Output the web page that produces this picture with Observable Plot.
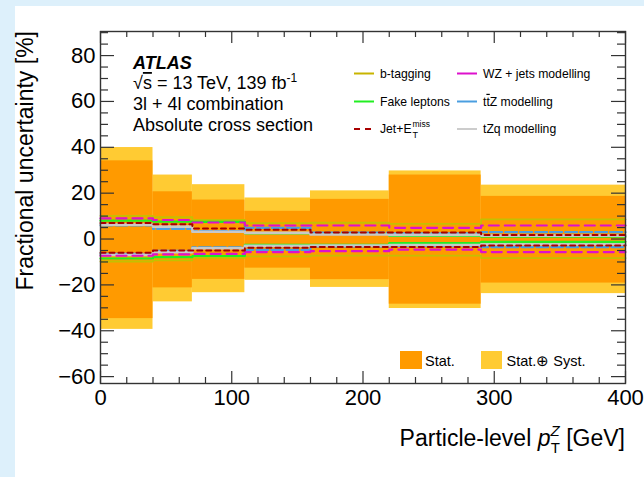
<!DOCTYPE html>
<html>
<head>
<meta charset="utf-8">
<script src="https://cdn.jsdelivr.net/npm/d3@7"></script>
<script src="https://cdn.jsdelivr.net/npm/@observablehq/plot@0.6"></script>
<style>
  html, body { margin: 0; padding: 0; width: 644px; height: 477px; overflow: hidden; background: #ddf0fb; }
  #chart { position: absolute; left: 15px; top: 6px; width: 629px; height: 471px; background: #ffffff; }
  #chart svg { display: block; }
</style>
</head>
<body>
<div id="chart"></div>
<script>
// ---- data ----
const binEdges = [0, 40, 70, 110, 160, 220, 290, 400];
const statUp    = [34.1, 20.6, 17.0, 12.1, 17.3, 27.9, 18.6];
const statDown  = [-34.7, -21.3, -17.6, -12.7, -17.7, -28.4, -19.2];
const totalUp   = [39.9, 27.9, 23.7, 17.9, 21.0, 29.7, 23.5];
const totalDown = [-39.4, -27.4, -23.4, -18.0, -21.1, -30.3, -23.8];

const bTagUp   = [10.1, 9.5, 8.3, 6.9, 7.1, 6.6, 8.6];
const bTagDown = [-9.8, -9.3, -8.2, -7.6, -7.2, -7.2, -8.3];
const fakeUp   = [8.0, 7.6, 7.5, 2.5, 2.2, 1.4, 1.0];
const fakeDown = [-8.5, -7.9, -7.4, -2.5, -2.5, -1.8, -1.2];
const jetUp    = [7.0, 6.5, 4.6, 4.0, 2.8, 2.8, 1.8];
const jetDown  = [-6.0, -5.0, -5.0, -3.8, -3.5, -3.5, -2.8];
const wzUp     = [9.0, 8.3, 7.2, 5.9, 5.9, 4.9, 5.9];
const wzDown   = [-7.3, -6.7, -6.5, -5.7, -5.3, -4.6, -5.7];
const ttzUp    = [5.9, 4.4, 3.5, 4.9, 2.8, 2.5, 3.0];
const ttzDown  = [-6.5, -5.2, -3.6, -4.7, -3.2, -3.0, -3.5];
const tzqUp    = [6.3, 5.4, 3.2, 2.7, 2.0, 1.8, 1.5];
const tzqDown  = [-6.9, -5.7, -4.0, -3.0, -2.8, -2.6, -2.3];

const xTicksMajor = [0, 100, 200, 300, 400];
const xTicksMinor = [20, 40, 60, 80, 120, 140, 160, 180, 220, 240, 260, 280, 320, 340, 360, 380];
const yTicksMajor = [-60, -40, -20, 0, 20, 40, 60, 80];
const yTicksMinor = [-55, -50, -45, -35, -30, -25, -15, -10, -5, 5, 10, 15, 25, 30, 35, 45, 50, 55, 65, 70, 75, 85, 90];

// ---- helpers ----
const bandRows = (lo, hi) => lo.map((d, i) => ({x1: binEdges[i], x2: binEdges[i + 1], y1: lo[i], y2: hi[i]}));
const stepPts = (vals) => binEdges.map((e, i) => ({x: e, y: vals[Math.min(i, vals.length - 1)]}));

const series = [
  {up: bTagUp, down: bTagDown, stroke: "#c4c000", w: 1.8, dash: null},
  {up: fakeUp, down: fakeDown, stroke: "#22ee22", w: 2.2, dash: null},
  {up: ttzUp, down: ttzDown, stroke: "#4a9ee0", w: 2.2, dash: "12,3"},
  {up: tzqUp, down: tzqDown, stroke: "#c8c8c8", w: 2.6, dash: null},
  {up: wzUp, down: wzDown, stroke: "#dd11cc", w: 2.2, dash: "10,6"},
  {up: jetUp, down: jetDown, stroke: "#a80000", w: 2.0, dash: "5,4"}
];

const W = 629, H = 471, mL = 85, mR = 19, mT = 25, mB = 94;
const innerW = W - mL - mR, innerH = H - mT - mB;

const marks = [
  Plot.rect(bandRows(totalDown, totalUp), {x1: "x1", x2: "x2", y1: "y1", y2: "y2", fill: "#ffcb33"}),
  Plot.rect(bandRows(statDown, statUp), {x1: "x1", x2: "x2", y1: "y1", y2: "y2", fill: "#ff9a00"})
];
for (const s of series) {
  for (const v of [s.up, s.down]) {
    marks.push(Plot.line(stepPts(v), {x: "x", y: "y", curve: "step-after", stroke: s.stroke,
      strokeWidth: s.w, strokeDasharray: s.dash}));
  }
}
// ROOT-style inward ticks on all four sides
marks.push(
  Plot.tickY(yTicksMajor, {y: d => d, insetRight: innerW - 14, stroke: "#333", strokeWidth: 1.2}),
  Plot.tickY(yTicksMinor, {y: d => d, insetRight: innerW - 8, stroke: "#333", strokeWidth: 1.2}),
  Plot.tickY(yTicksMajor, {y: d => d, insetLeft: innerW - 14, stroke: "#333", strokeWidth: 1.2}),
  Plot.tickY(yTicksMinor, {y: d => d, insetLeft: innerW - 8, stroke: "#333", strokeWidth: 1.2}),
  Plot.tickX(xTicksMajor, {x: d => d, insetTop: innerH - 12, stroke: "#333", strokeWidth: 1.2}),
  Plot.tickX(xTicksMinor, {x: d => d, insetTop: innerH - 6, stroke: "#333", strokeWidth: 1.2}),
  Plot.tickX(xTicksMajor, {x: d => d, insetBottom: innerH - 12, stroke: "#333", strokeWidth: 1.2}),
  Plot.tickX(xTicksMinor, {x: d => d, insetBottom: innerH - 6, stroke: "#333", strokeWidth: 1.2}),
  Plot.frame({stroke: "#333", strokeWidth: 1.4}),
  Plot.axisY({ticks: yTicksMajor, tickSize: 0, tickPadding: 5, fontSize: 22, tickFormat: d3.format("d"), label: null}),
  Plot.axisX({ticks: xTicksMajor, tickSize: 0, tickPadding: 6, fontSize: 22, tickFormat: d3.format("d"), label: null})
);

const svgEl = Plot.plot({
  width: W, height: H,
  marginLeft: mL, marginRight: mR, marginTop: mT, marginBottom: mB,
  x: {domain: [0, 400], axis: null},
  y: {domain: [-63, 90.5], axis: null},
  style: {fontFamily: "'Liberation Sans', Arial, Helvetica, sans-serif", color: "#000", background: "white", overflow: "visible"},
  marks
});
document.getElementById("chart").appendChild(svgEl);

// ---- annotations (text, legends) ----
const svg = d3.select(svgEl);
const g = svg.append("g").attr("font-family", "'Liberation Sans', Arial, Helvetica, sans-serif")
  .attr("fill", "#000").attr("text-anchor", "start");

// axis titles
g.append("text").attr("transform", "translate(18,25) rotate(-90)").attr("text-anchor", "end")
  .attr("font-size", 23).text("Fractional uncertainty [%]");
const xt = g.append("text").attr("x", 610).attr("y", 440).attr("text-anchor", "end").attr("font-size", 23);
xt.append("tspan").text("Particle-level ");
xt.append("tspan").attr("font-style", "italic").text("p");
xt.append("tspan").attr("font-style", "italic").attr("font-size", 15).attr("dy", -10).text("Z");
xt.append("tspan").attr("font-size", 15).attr("dx", -9).attr("dy", 17).text("T");
xt.append("tspan").attr("dy", -7).text(" [GeV]");

// ATLAS block
g.append("text").attr("x", 118).attr("y", 62.5).attr("font-size", 18).attr("font-weight", "bold")
  .attr("font-style", "italic").text("ATLAS");
const l2 = g.append("text").attr("x", 118).attr("y", 83).attr("font-size", 18);
l2.append("tspan").text("√");
l2.append("tspan").attr("text-decoration", "overline").text("s");
l2.append("tspan").text(" = 13 TeV, 139 fb");
l2.append("tspan").attr("font-size", 12).attr("dy", -7).text("-1");
g.append("text").attr("x", 118).attr("y", 104).attr("font-size", 18).text("3l + 4l combination");
g.append("text").attr("x", 118).attr("y", 124.5).attr("font-size", 18).text("Absolute cross section");

// line legend
const legendItems = [
  {col: 0, row: 0, stroke: "#c8b400", dash: null, label: "b-tagging"},
  {col: 0, row: 1, stroke: "#22ee22", dash: null, label: "Fake leptons"},
  {col: 0, row: 2, stroke: "#a80000", dash: "6,5", label: "Jet+E"},
  {col: 1, row: 0, stroke: "#dd11cc", dash: null, label: "WZ + jets modelling"},
  {col: 1, row: 1, stroke: "#4a9ee0", dash: null, label: "ttZ"},
  {col: 1, row: 2, stroke: "#cccccc", dash: null, label: "tZq modelling"}
];
const colX = [339, 442], rowY = [67.5, 95.5, 123];
for (const it of legendItems) {
  const x0 = colX[it.col], yc = rowY[it.row];
  g.append("line").attr("x1", x0).attr("x2", x0 + 20).attr("y1", yc).attr("y2", yc)
    .attr("stroke", it.stroke).attr("stroke-width", 2).attr("stroke-dasharray", it.dash);
  const t = g.append("text").attr("x", x0 + 26).attr("y", yc + 4.3).attr("font-size", 12.2);
  if (it.label === "ttZ") {
    t.append("tspan").text("t");
    t.append("tspan").attr("text-decoration", "overline").text("t");
    t.append("tspan").text("Z modelling");
  } else if (it.label === "Jet+E") {
    t.text("Jet+E");
    g.append("text").attr("x", x0 + 58.5).attr("y", yc - 2.5).attr("font-size", 8.5).text("miss");
    g.append("text").attr("x", x0 + 58.5).attr("y", yc + 8.5).attr("font-size", 9).text("T");
  } else {
    t.text(it.label);
  }
}

// band legend
g.append("rect").attr("x", 385).attr("y", 345).attr("width", 22).attr("height", 18).attr("fill", "#ff9a00");
g.append("text").attr("x", 410).attr("y", 359.5).attr("font-size", 14.5).text("Stat.");
g.append("rect").attr("x", 466).attr("y", 345).attr("width", 21).attr("height", 18).attr("fill", "#ffcb33");
g.append("text").attr("x", 491.5).attr("y", 359.5).attr("font-size", 14.5).text("Stat.⊕ Syst.");
</script>
</body>
</html>
